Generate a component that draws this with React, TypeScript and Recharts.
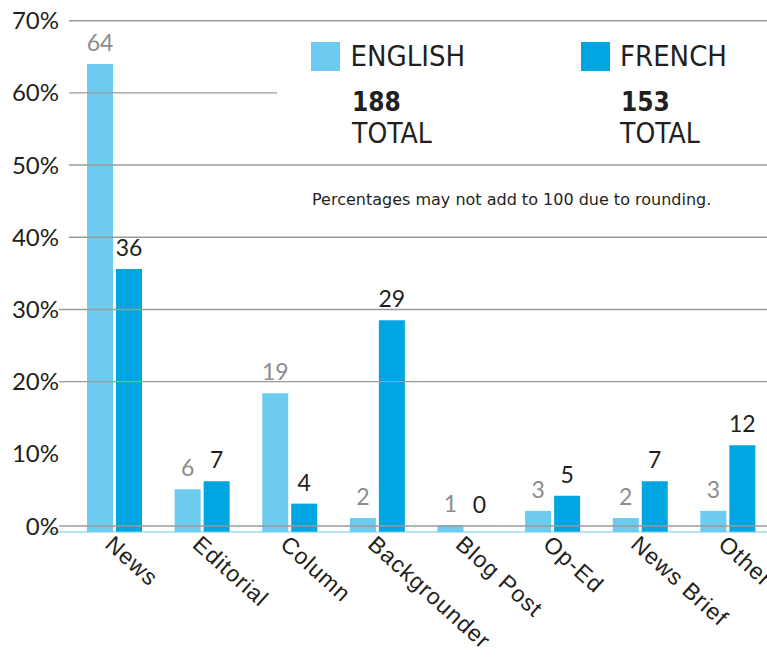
import React from 'react';
import { BarChart, Bar, XAxis, YAxis, ReferenceLine, LabelList, Legend } from 'recharts';

const categories = ['News', 'Editorial', 'Column', 'Backgrounder', 'Blog Post', 'Op-Ed', 'News Brief', 'Other'];
const englishValues = [64.0, 5.1, 18.4, 1.1, 0.1, 2.1, 1.1, 2.1];
const frenchValues = [35.6, 6.2, 3.1, 28.5, 0, 4.2, 6.2, 11.2];
const englishLabels = [64, 6, 19, 2, 1, 3, 2, 3];
const frenchLabels = [36, 7, 4, 29, 0, 5, 7, 12];
const yTicks = [0, 10, 20, 30, 40, 50, 60, 70];
const gridValues = [0, 20, 30, 40, 50, 60, 70];
const englishTotal = 188;
const frenchTotal = 153;
const seriesNames = ['ENGLISH', 'FRENCH'];
const note = 'Percentages may not add to 100 due to rounding.';

const EN_COLOR = '#6dcbf0';
const FR_COLOR = '#00a6e2';
const TEXT = '#231f20';
const GRID = '#9a9a9a';
const BASE = -0.83;

const data = categories.map((c, i) => ({
  category: c,
  en: englishValues[i],
  fr: frenchValues[i],
  enLabel: englishLabels[i],
  frLabel: frenchLabels[i],
}));

// bars hang slightly below the 0% line; a zero value gets an (invisible) hairline bar so its label still shows
const range = (key: string) => (d: any) => (d[key] > 0 ? [BASE, d[key]] : [0, 0.02]);

const gridShape = (indent: number) => (p: any) => (
  <line x1={p.x1 + indent} y1={p.y1} x2={p.x2} y2={p.y2} stroke={GRID} strokeWidth={1.4} />
);

const baseShape = (p: any) => (
  <line x1={p.x1 - 12} y1={p.y1} x2={p.x2} y2={p.y2} stroke={EN_COLOR} strokeWidth={1.2} />
);

const XTick = (props: any) => {
  const { x, y, payload } = props;
  return (
    <text
      x={x}
      y={y}
      dy="0.72em"
      transform={`rotate(42 ${x} ${y})`}
      textAnchor="start"
      fontFamily="'Liberation Sans', Arial, sans-serif"
      fontSize={23}
      letterSpacing={1}
      fill={TEXT}
    >
      {payload.value}
    </text>
  );
};

const LEG_FONT = "'DejaVu Sans Condensed', 'DejaVu Sans', sans-serif";

const LegendPanel = () => (
  <svg width={490} height={190} style={{ display: 'block' }}>
    <rect x={0} y={0} width={490} height={141} fill="#fff" />
    <rect x={34} y={19} width={29} height={29} fill={EN_COLOR} />
    <text x={73.5} y={42.7} fontFamily={LEG_FONT} fontStretch="condensed" fontSize={29} fill={TEXT}>{seriesNames[0]}</text>
    <text x={75} y={87.7} fontFamily={LEG_FONT} fontStretch="condensed" fontWeight="bold" fontSize={26} fill={TEXT}>{englishTotal}</text>
    <text x={75} y={119.7} fontFamily={LEG_FONT} fontStretch="condensed" fontSize={28} fill={TEXT}>TOTAL</text>
    <rect x={304} y={19} width={29} height={29} fill={FR_COLOR} />
    <text x={343} y={42.7} fontFamily={LEG_FONT} fontStretch="condensed" fontSize={29} fill={TEXT}>{seriesNames[1]}</text>
    <text x={344} y={87.7} fontFamily={LEG_FONT} fontStretch="condensed" fontWeight="bold" fontSize={26} fill={TEXT}>{frenchTotal}</text>
    <text x={343} y={119.7} fontFamily={LEG_FONT} fontStretch="condensed" fontSize={28} fill={TEXT}>TOTAL</text>
    <text x={35} y={182} fontFamily="'DejaVu Sans', sans-serif" fontSize={16} fill={TEXT}>{note}</text>
  </svg>
);

export default function App() {
  return (
    <div style={{ position: 'absolute', left: 0, top: 0, width: 767, height: 662, overflow: 'hidden', background: '#fff' }}>
      <BarChart
        width={780}
        height={662}
        data={data}
        margin={{ top: 20.7, right: 8, bottom: 0, left: 0 }}
        barGap={3}
      >
        <XAxis
          dataKey="category"
          axisLine={false}
          tickLine={false}
          tickSize={0}
          tickMargin={2}
          height={130}
          interval={0}
          padding={{ left: 12, right: 0 }}
          tick={<XTick />}
        />
        <YAxis
          width={59}
          domain={[BASE, 70]}
          ticks={yTicks}
          axisLine={false}
          tickLine={false}
          tickSize={0}
          tickMargin={0}
          tickFormatter={(v: number) => `${v}%`}
          tick={{ fill: TEXT, fontSize: 24, fontFamily: 'Lato, sans-serif' }}
          allowDataOverflow
        />
        <Bar dataKey={range('en')} fill={EN_COLOR} barSize={26} isAnimationActive={false}>
          <LabelList dataKey="enLabel" position="top" offset={13} fill="#8c8c8c" fontSize={23} fontFamily="Lato, sans-serif" />
        </Bar>
        <Bar dataKey={range('fr')} fill={FR_COLOR} barSize={26} isAnimationActive={false}>
          <LabelList dataKey="frLabel" position="top" offset={13} fill={TEXT} fontSize={23} fontFamily="Lato, sans-serif" />
        </Bar>
        {gridValues.map((v) => (
          <ReferenceLine key={v} y={v} shape={gridShape(v >= 40 ? 10 : 0)} />
        ))}
        <ReferenceLine y={BASE} shape={baseShape} />
        <Legend
          layout="horizontal"
          verticalAlign="middle"
          align="center"
          content={LegendPanel}
          wrapperStyle={{ left: 277, top: 23, width: 490, height: 190 }}
        />
      </BarChart>
    </div>
  );
}
